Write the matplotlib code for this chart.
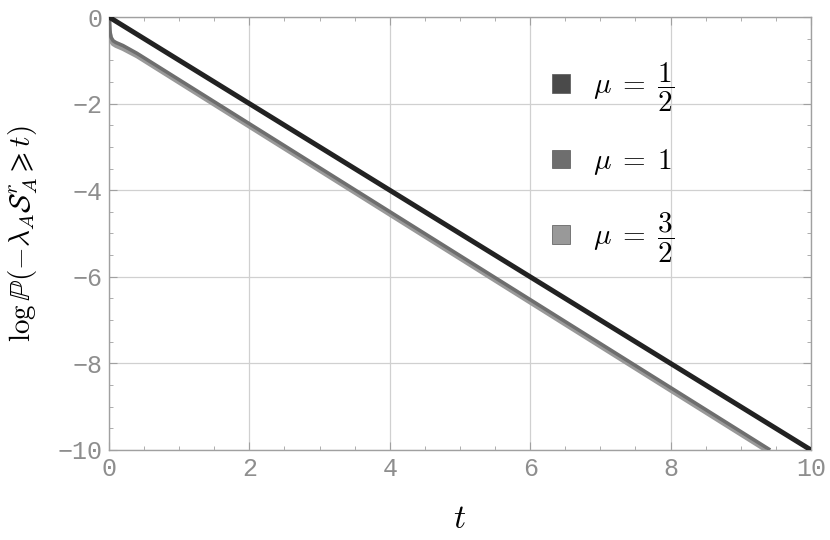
import matplotlib
matplotlib.use('Agg')
import matplotlib.pyplot as plt
from matplotlib.patches import Patch
from matplotlib.ticker import MultipleLocator

plt.rcParams['mathtext.fontset'] = 'cm'

# valeurs
t_half = [0, 10]
y_half = [0, -10]

t_one = [0, 0.01, 0.03, 0.06, 0.1, 0.2, 0.4, 9.42]
y_one = [0, -0.3, -0.47, -0.55, -0.59, -0.66, -0.84, -10]

t_three_half = [0, 0.01, 0.03, 0.06, 0.1, 0.2, 0.4, 9.36]
y_three_half = [0, -0.4, -0.55, -0.62, -0.66, -0.73, -0.9, -10]

labels = [r'$\mu\;=\;\dfrac{1}{2}$', r'$\mu\;=\;1$', r'$\mu\;=\;\dfrac{3}{2}$']
line_colors = ['#222222', '#6e6e6e', '#999999']
swatch_colors = ['#4a4a4a', '#6e6e6e', '#999999']

fig = plt.figure(figsize=(8.3, 5.4), dpi=100)
ax = fig.add_axes([0.1313, 0.1667, 0.8457, 0.8018])

ax.plot(t_three_half, y_three_half, color=line_colors[2], lw=3.4, solid_capstyle='butt', zorder=3)
ax.plot(t_one, y_one, color=line_colors[1], lw=2.6, solid_capstyle='butt', zorder=4)
ax.plot(t_half, y_half, color=line_colors[0], lw=3.6, solid_capstyle='butt', zorder=5)

ax.set_xlim(0, 10)
ax.set_ylim(-10, 0)
ax.xaxis.set_major_locator(MultipleLocator(2))
ax.xaxis.set_minor_locator(MultipleLocator(0.5))
ax.yaxis.set_major_locator(MultipleLocator(2))
ax.yaxis.set_minor_locator(MultipleLocator(0.5))
ax.grid(True, which='major', color='#d0d0d0', lw=0.9)
ax.set_axisbelow(True)

for s in ax.spines.values():
    s.set_color('#a0a0a0')
    s.set_linewidth(1.0)
ax.tick_params(which='both', direction='in', top=True, right=True, color='#a0a0a0',
               labelcolor='#8e8e8e', labelsize=18, pad=5)
ax.tick_params(which='major', length=6)
ax.tick_params(which='minor', length=3)
for lab in ax.get_xticklabels() + ax.get_yticklabels():
    lab.set_family('Liberation Mono')

ax.set_xlabel(r'$t$', fontsize=24, labelpad=15)
ax.set_ylabel(r'$\log\mathbb{P}(-\lambda_A\mathcal{S}^r_A \geqslant t)$', fontsize=21, labelpad=12)

handles = [Patch(facecolor=c, edgecolor='#555555', lw=0.5) for c in swatch_colors]
ax.legend(handles, labels, loc='upper left', bbox_to_anchor=(0.594, 0.96), frameon=False,
          fontsize=21, handlelength=0.6, handleheight=0.6, labelspacing=1.15, handletextpad=0.8)

fig.savefig('out.png', dpi=100)
